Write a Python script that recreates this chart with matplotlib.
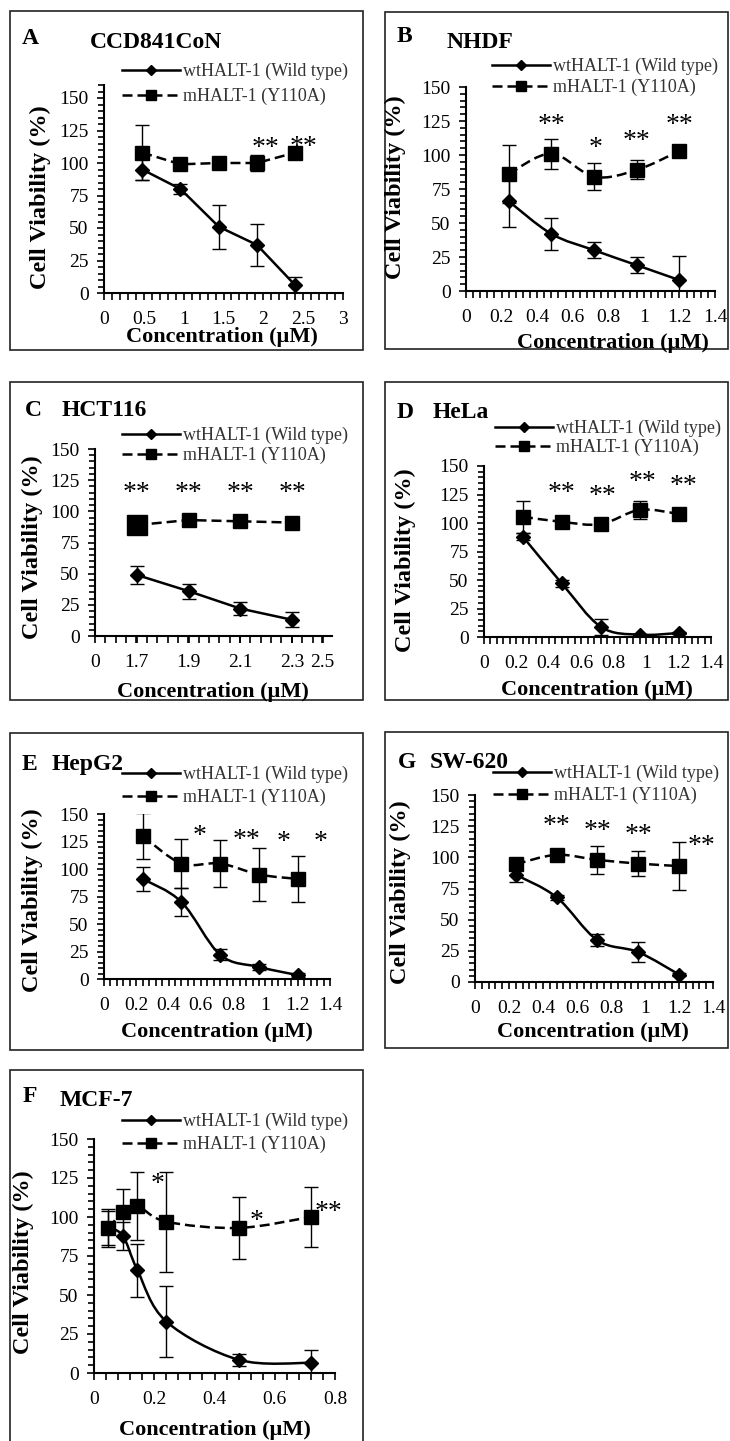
import numpy as np
import matplotlib
matplotlib.use('Agg')
import matplotlib.pyplot as plt
from matplotlib.path import Path
from matplotlib.patches import PathPatch, Rectangle
from matplotlib.lines import Line2D
from matplotlib.ticker import MultipleLocator, FixedLocator

W, H = 730, 1441

plt.rcParams.update({
    "font.family": ["Liberation Serif", "DejaVu Serif"],
    "font.size": 14,
    "axes.linewidth": 1.5,
    "xtick.major.size": 5, "xtick.minor.size": 5,
    "ytick.major.size": 5, "ytick.minor.size": 4,
    "xtick.major.width": 1.2, "xtick.minor.width": 1.2,
    "ytick.major.width": 1.2, "ytick.minor.width": 1.2,
    "xtick.labelsize": 14, "ytick.labelsize": 14,
    "xtick.major.pad": 8, "ytick.major.pad": 6,
})

# ---- data ----
# A  CCD841CoN
conc_A = [0.48, 0.96, 1.44, 1.92, 2.40]
wt_A = [95, 80, 51, 37, 6]
wt_err_A = [8, 4, 17, 16, 6]
m_A = [108, 99, 100, 100, 108]
m_err_A = [21, 2, 2, 6, 2]
stars_A = [(2.03, 117, '**'), (2.51, 118, '**')]

# B  NHDF
conc_B = [0.24, 0.48, 0.72, 0.96, 1.20]
wt_B = [66, 42, 30, 19, 8]
wt_err_B = [19, 12, 6, 6, 18]
m_B = [86, 101, 84, 89, 103]
m_err_B = [21, 11, 10, 7, 4]
stars_B = [(0.48, 128, '**'), (0.73, 111, '*'), (0.96, 116, '**'), (1.20, 128, '**')]

# C  HCT116 (axis labels are not linear, points placed by category)
conc_C = ['1.7', '1.9', '2.1', '2.3']
wt_C = [49, 36, 22, 13]
wt_err_C = [7, 6, 5, 6]
m_C = [89, 93, 92, 91]
m_err_C = [2, 2, 2, 2]
stars_C = [(0, 121, '**'), (1, 121, '**'), (2, 121, '**'), (3, 121, '**')]
ticklabels_C = ['0', '1.7', '1.9', '2.1', '2.3', '2.5']

# D  HeLa
conc_D = [0.24, 0.48, 0.72, 0.96, 1.20]
wt_D = [88, 47, 9, 2, 3.5]
wt_err_D = [3, 3, 7, 1, 1]
m_D = [105.5, 101, 99, 111.5, 108]
m_err_D = [14, 3, 3, 8, 2]
stars_D = [(0.48, 133, '**'), (0.73, 130, '**'), (0.98, 143, '**'), (1.23, 139, '**')]

# E  HepG2
conc_E = [0.24, 0.48, 0.72, 0.96, 1.20]
wt_E = [91, 70, 22, 11, 3.5]
wt_err_E = [11, 13, 5, 3, 2]
m_E = [130, 105, 105, 95, 91]
m_err_E = [21, 22, 21, 24, 21]
stars_E = [(0.59, 137, '*'), (0.88, 133, '**'), (1.11, 131, '*'), (1.34, 131, '*')]

# G  SW-620
conc_G = [0.24, 0.48, 0.72, 0.96, 1.20]
wt_G = [86, 68, 33.5, 24, 6]
wt_err_G = [6, 2, 5, 8, 1]
m_G = [94.5, 102, 98, 95, 93]
m_err_G = [3, 2, 11, 10, 19]
stars_G = [(0.48, 131, '**'), (0.72, 127, '**'), (0.96, 124, '**'), (1.33, 115, '**')]

# F  MCF-7
conc_F = [0.048, 0.096, 0.144, 0.24, 0.48, 0.72]
wt_F = [93, 88, 66, 33, 8.5, 6.5]
wt_err_F = [12, 9, 17, 23, 4, 8]
m_F = [93, 103, 107, 97, 93, 100]
m_err_F = [11, 15, 22, 32, 20, 19]
stars_F = [(0.21, 126, '*'), (0.54, 102, '*'), (0.78, 108, '**')]

LEG_WT = 'wtHALT-1 (Wild type)'
LEG_M = 'mHALT-1 (Y110A)'
LW = 1.8
DASH = (0, (4, 2))
LEG_FS = 13


def fx(px):
    return px / W


def fy(py):
    return 1 - py / H


def smooth_path(x, y):
    # Excel style smoothed line (cubic bezier through the points)
    pts = np.column_stack([x, y]).astype(float)
    n = len(pts)
    verts, codes = [pts[0]], [Path.MOVETO]
    for i in range(n - 1):
        p0 = pts[i - 1] if i > 0 else pts[i]
        p1, p2 = pts[i], pts[i + 1]
        p3 = pts[i + 2] if i + 2 < n else pts[i + 1]
        verts += [p1 + (p2 - p0) / 6, p2 - (p3 - p1) / 6, p2]
        codes += [Path.CURVE4] * 3
    return Path(verts, codes)


def draw_series(ax, x, y, err, marker, ms, ls, smooth):
    if smooth:
        ax.add_patch(PathPatch(smooth_path(x, y), fill=False, ec='k', lw=LW, ls=ls, zorder=2))
    else:
        ax.plot(x, y, color='k', lw=LW, ls=ls, zorder=2)
    ax.errorbar(x, y, yerr=err, fmt=marker, ms=ms, mfc='k', mec='k', ecolor='k',
                elinewidth=1, capsize=5, capthick=1, zorder=3)


def panel(fig, p):
    l, t, r, b = p['box']
    fig.add_artist(Rectangle((fx(l), fy(b)), fx(r - l), (b - t) / H, transform=fig.transFigure,
                             fill=False, ec='#222222', lw=1.2))
    al, at, ar, ab = p['axes']
    ax = fig.add_axes([fx(al), fy(ab), fx(ar - al), (ab - at) / H])
    x = p['x']
    draw_series(ax, x, p['wt'], p['wt_err'], 'D', 7.5, '-', p['smooth'])
    draw_series(ax, x, p['m'], p['m_err'], 's', 10, DASH, p['smooth'])
    if p.get('big_first'):
        ax.plot(x[:1], p['m'][:1], 's', ms=15, color='k', zorder=4)
    for sx, sy, s in p['stars']:
        # asterisk glyph sits high in the em box, so anchor on the baseline
        ax.annotate(s, (sx, sy), xytext=(0, -10.5), textcoords='offset points',
                    ha='center', va='baseline', fontsize=20)

    ax.set_xlim(p['xlim'])
    ax.set_ylim(0, p['ytop'])
    ax.yaxis.set_major_locator(FixedLocator([0, 25, 50, 75, 100, 125, 150]))
    ax.yaxis.set_minor_locator(MultipleLocator(5))
    if 'xticks' in p:
        ax.xaxis.set_major_locator(FixedLocator(p['xticks']))
        ax.set_xticklabels(p['xticklabels'])
        ax.xaxis.set_minor_locator(FixedLocator(p['xminor']))
    else:
        ax.xaxis.set_major_locator(MultipleLocator(p['xmajor']))
        ax.xaxis.set_minor_locator(MultipleLocator(p['xminor']))
        ax.xaxis.set_major_formatter(lambda v, pos: f'{v:g}')
    for s in ['top', 'right']:
        ax.spines[s].set_visible(False)
    ax.patch.set_alpha(0)

    # texts
    lx, ly = p['letter']
    fig.text(fx(lx), fy(ly), p['name'][0], ha='left', va='center', fontsize=17, fontweight='bold')
    tx, ty = p['title']
    fig.text(fx(tx), fy(ty), p['name'][1], ha='left', va='center', fontsize=17, fontweight='bold')
    yx, yy = p['ylabel']
    fig.text(fx(yx), fy(yy), 'Cell Viability (%)', rotation=90, ha='center', va='center',
             fontsize=17.5, fontweight='bold')
    xx, xy = p['xlabel']
    fig.text(fx(xx), fy(xy), 'Concentration (\u00b5M)', ha='center', va='center',
             fontsize=16, fontweight='bold')

    handles = [Line2D([], [], color='k', lw=LW, marker='D', ms=5),
               Line2D([], [], color='k', lw=LW, ls=DASH, marker='s', ms=7.5)]
    hx, r1, r2 = p['legend']
    fs_px = LEG_FS * 100 / 72
    fig.legend(handles, [LEG_WT, LEG_M], loc='center left',
               bbox_to_anchor=(fx(hx), fy((r1 + r2) / 2)), bbox_transform=fig.transFigure,
               frameon=False, fontsize=LEG_FS, labelcolor='#333333', handlelength=3.2,
               handletextpad=0.2, borderpad=0, borderaxespad=0, numpoints=1,
               labelspacing=max(0.0, (r2 - r1 - 1.15 * fs_px) / fs_px))
    return ax


panels = [
    dict(name=('A', 'CCD841CoN'), x=conc_A, wt=wt_A, wt_err=wt_err_A, m=m_A, m_err=m_err_A,
         stars=stars_A, smooth=False, box=(10, 11, 363, 350), axes=(104, 85, 343, 293),
         xlim=(0, 3), ytop=160, xmajor=0.5, xminor=0.1,
         letter=(22, 38), title=(90, 43), ylabel=(40, 197), xlabel=(222, 337), legend=(122, 70, 98)),
    dict(name=('B', 'NHDF'), x=conc_B, wt=wt_B, wt_err=wt_err_B, m=m_B, m_err=m_err_B,
         stars=stars_B, smooth=True, box=(385, 12, 728, 349), axes=(466, 87, 715, 291),
         xlim=(0, 1.4), ytop=150, xmajor=0.2, xminor=0.04,
         letter=(397, 37), title=(447, 42), ylabel=(395, 187), xlabel=(613, 343), legend=(492, 65, 89)),
    dict(name=('C', 'HCT116'), x=list(range(len(conc_C))), wt=wt_C, wt_err=wt_err_C, m=m_C,
         m_err=m_err_C, stars=stars_C, smooth=False, big_first=True,
         box=(10, 382, 363, 700), axes=(95, 449, 332, 636),
         xlim=(-0.806, 3.77), ytop=150, xticks=[-0.806, 0, 1, 2, 3, 3.58],
         xticklabels=ticklabels_C, xminor=list(np.arange(-0.806, 3.78, 0.2)),
         letter=(25, 410), title=(62, 410), ylabel=(32, 547), xlabel=(213, 692), legend=(122, 434, 457)),
    dict(name=('D', 'HeLa'), x=conc_D, wt=wt_D, wt_err=wt_err_D, m=m_D, m_err=m_err_D,
         stars=stars_D, smooth=True, box=(385, 382, 728, 700), axes=(484, 466, 711, 637),
         xlim=(0, 1.4), ytop=150, xmajor=0.2, xminor=0.04,
         letter=(397, 412), title=(433, 412), ylabel=(405, 560), xlabel=(597, 690), legend=(495, 427, 449)),
    dict(name=('E', 'HepG2'), x=conc_E, wt=wt_E, wt_err=wt_err_E, m=m_E, m_err=m_err_E,
         stars=stars_E, smooth=True, box=(10, 733, 363, 1050), axes=(104, 814, 330, 979),
         xlim=(0, 1.4), ytop=150, xmajor=0.2, xminor=0.04,
         letter=(22, 764), title=(52, 764), ylabel=(32, 900), xlabel=(217, 1032), legend=(122, 773, 799)),
    dict(name=('G', 'SW-620'), x=conc_G, wt=wt_G, wt_err=wt_err_G, m=m_G, m_err=m_err_G,
         stars=stars_G, smooth=True, box=(385, 732, 728, 1048), axes=(475, 795, 713, 982),
         xlim=(0, 1.4), ytop=150, xmajor=0.2, xminor=0.04,
         letter=(398, 762), title=(430, 762), ylabel=(400, 892), xlabel=(593, 1032), legend=(493, 772, 797)),
    dict(name=('F', 'MCF-7'), x=conc_F, wt=wt_F, wt_err=wt_err_F, m=m_F, m_err=m_err_F,
         stars=stars_F, smooth=True, box=(10, 1070, 363, 1460), axes=(94, 1139, 335, 1373),
         xlim=(0, 0.8), ytop=150, xmajor=0.2, xminor=0.04,
         letter=(23, 1097), title=(60, 1100), ylabel=(23, 1262), xlabel=(215, 1430), legend=(122, 1120, 1146)),
]

fig = plt.figure(figsize=(W / 100, H / 100), dpi=100)
fig.patch.set_facecolor('white')
for p in panels:
    panel(fig, p)

fig.savefig('out.png', dpi=100, facecolor='white')
